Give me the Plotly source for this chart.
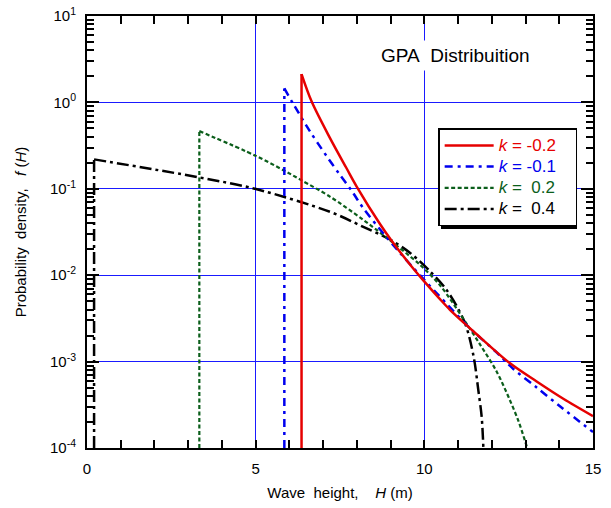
import plotly.graph_objects as go

# ---- data (H in m, f(H) probability density) ----
F_FLOOR = 1e-4  # lower end of the vertical start lines (axis bottom)

H_red = [6.36, 6.66, 7.2, 7.69, 7.99, 8.69, 9.03, 9.58, 9.97, 10.47, 10.76, 11.2, 11.5, 12.54, 13.33, 14.12, 15.0]
f_red = [2.13, 1.023, 0.389, 0.174, 0.107, 0.0389, 0.0251, 0.0132, 0.0087, 0.00525, 0.00398, 0.00275, 0.00216, 0.000955, 0.000589, 0.000372, 0.000234]

H_blue = [5.85, 6.11, 6.61, 7.1, 7.5, 7.84, 8.19, 8.83, 9.28, 9.87, 10.37, 11.36, 12.15, 12.64, 13.33, 14.03, 15.0]
f_blue = [1.449, 0.968, 0.462, 0.240, 0.1445, 0.0955, 0.0596, 0.0290, 0.0181, 0.0100, 0.00617, 0.00242, 0.00127, 0.000822, 0.000501, 0.000302, 0.000153]

H_green = [3.33, 5.01, 5.85, 6.35, 7.2, 8.19, 8.83, 9.87, 10.47, 11.2, 11.65, 12.15, 12.54, 12.8, 13.05]
f_green = [0.465, 0.240, 0.162, 0.126, 0.0813, 0.0437, 0.0282, 0.0132, 0.00759, 0.00295, 0.00158, 0.000759, 0.000355, 0.0002, 0.0001]

H_black = [0.21, 3.33, 5.01, 7.2, 8.19, 8.98, 9.58, 10.17, 10.66, 11.2, 11.46, 11.6, 11.7, 11.75]
f_black = [0.219, 0.1355, 0.0993, 0.0542, 0.0363, 0.0259, 0.0181, 0.01107, 0.00676, 0.00282, 0.00115, 0.000468, 0.000229, 0.0001]

k_labels = ["-0.2", "-0.1", "\u00a00.2", "\u00a00.4"]

x_ticks = [0, 5, 10, 15]
y_ticks = [1e-4, 1e-3, 1e-2, 1e-1, 1e0, 1e1]
y_ticktext = ["10<sup>-4</sup>", "10<sup>-3</sup>", "10<sup>-2</sup>", "10<sup>-1</sup>", "10<sup>0</sup>", "10<sup>1</sup>"]

FONT = "Liberation Sans, Arial, sans-serif"
NB = "\u00a0"
GRID = "#1a1aff"

fig = go.Figure()

series = [
    (H_black, f_black, "#000000", "12px,4px,3px,4px", 2.5, k_labels[3]),
    (H_green, f_green, "#0b5e1b", "4px,2.5px", 2.2, k_labels[2]),
    (H_blue, f_blue, "#0000ee", "8px,5px,3px,5px", 2.5, k_labels[1]),
    (H_red, f_red, "#e60000", "solid", 2.5, k_labels[0]),
]
for i, (hx, fy, col, dash, w, lab) in enumerate(series):
    grp = "g%d" % i
    # vertical rise at the start of the distribution
    fig.add_trace(go.Scatter(
        x=[hx[0], hx[0]], y=[F_FLOOR, fy[0]], mode="lines",
        line=dict(color=col, width=w, dash=dash),
        legendgroup=grp, showlegend=False, hoverinfo="skip",
    ))
    fig.add_trace(go.Scatter(
        x=hx, y=fy, mode="lines",
        line=dict(color=col, width=w, dash=dash, shape="spline", smoothing=0.9),
        legendgroup=grp,
        name='<span style="color:%s;font-size:17px"><i>k</i> = %s%s</span>' % (col, lab, NB * 3),
    ))

minor_y = [m * 10.0 ** e for e in range(-4, 1) for m in range(2, 10)]

fig.update_layout(
    width=611, height=508,
    margin=dict(l=87, r=18, t=16, b=60, autoexpand=False),
    paper_bgcolor="white", plot_bgcolor="white",
    font=dict(family=FONT, size=15, color="black"),
    showlegend=True,
    legend=dict(
        x=0.694, y=0.74, xanchor="left", yanchor="top",
        bgcolor="white", bordercolor="black", borderwidth=1.5,
        font=dict(family=FONT, size=14),
        traceorder="reversed",
        tracegroupgap=0, itemwidth=49,
    ),
    xaxis=dict(
        range=[0, 15], showline=True, linecolor="black", linewidth=2, mirror="ticks",
        ticks="inside", ticklen=8, tickwidth=1.5, tickcolor="black",
        tickvals=x_ticks, ticktext=[str(v) for v in x_ticks],
        showgrid=True, gridcolor=GRID, gridwidth=1, zeroline=False,
        minor=dict(dtick=1, tick0=0, ticks="inside", ticklen=8, tickwidth=1.5, tickcolor="black", showgrid=False),
        title=dict(text="Wave" + NB + NB + "height," + NB + NB + NB + NB + "<i>H</i>" + NB + "(m)", font=dict(size=15), standoff=11),
        ticklabelstandoff=6, automargin=False,
    ),
    yaxis=dict(
        type="log", range=[-4, 1], showline=True, linecolor="black", linewidth=2, mirror="ticks",
        ticks="inside", ticklen=12, tickwidth=1.5, tickcolor="black",
        tickvals=y_ticks, ticktext=y_ticktext,
        showgrid=True, gridcolor=GRID, gridwidth=1, zeroline=False,
        minor=dict(tickmode="array", tickvals=minor_y, ticks="inside", ticklen=7, tickwidth=1.5, tickcolor="black", showgrid=False),
        title=dict(text="Probability" + NB + NB + "density," + NB + NB + NB + "<i>f</i>" + NB + "(<i>H</i>)", font=dict(size=15), standoff=20),
        ticklabelstandoff=6, automargin=False,
    ),
)

fig.add_annotation(
    x=0.729, y=0.909, xref="paper", yref="paper", xanchor="center", yanchor="middle",
    text="GPA" + NB + NB + "Distribuition", showarrow=False,
    font=dict(family=FONT, size=19, color="black"),
    bgcolor="white", borderpad=4,
)

# legend drop shadow
fig.add_shape(type="rect", xref="paper", yref="paper",
              x0=0.6996, x1=0.9684, y0=0.5069, y1=0.7338,
              fillcolor="black", line=dict(width=0), layer="above")

fig.write_html("out.html")
